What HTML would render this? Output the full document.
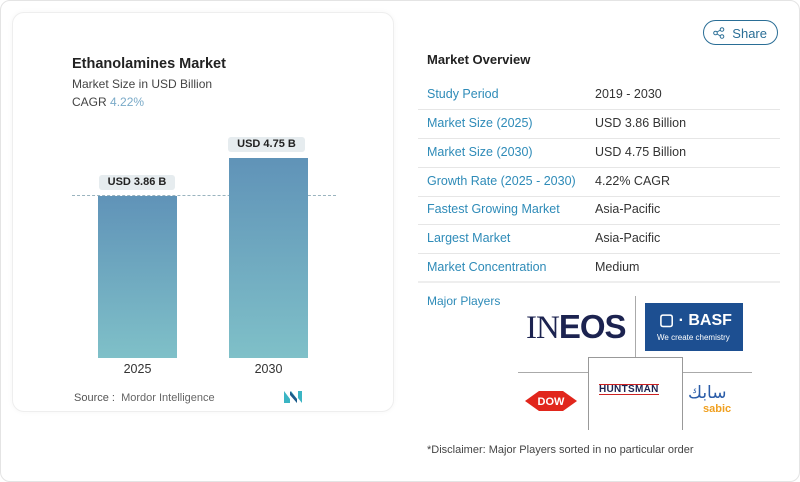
<!DOCTYPE html>
<html><head><style>
body{margin:0;width:800px;height:482px;background:#fff;font-family:"Liberation Sans",sans-serif;position:relative;overflow:hidden;color:#333}
.a{position:absolute}
.outer{left:0;top:0;width:798px;height:480px;border:1px solid #e4e4e4;border-radius:10px}
.card{left:12px;top:12px;width:380px;height:398px;border:1px solid #eee;border-radius:12px;background:#fff;box-shadow:0 0 6px rgba(0,0,0,.04)}
.bar{background:linear-gradient(#6093b8,#7fc0c8)}
.pill{background:#e6ecef;border-radius:3px;font-size:11px;font-weight:bold;text-align:center;line-height:15px;color:#222}
.row{left:418px;width:362px;height:29px;border-bottom:1px solid #e6e6e6;font-size:12.5px;line-height:29px}
.row span{position:absolute;left:9px;color:#2e8bb8}
.row b{position:absolute;left:177px;font-weight:normal;color:#333}
</style></head><body>
<div class="a outer"></div>
<div class="a card"></div>
<div class="a" style="left:72px;top:56px;font-size:14.5px;font-weight:bold;color:#222">Ethanolamines Market</div>
<div class="a" style="left:72px;top:77px;font-size:12px;color:#444">Market Size in USD Billion</div>
<div class="a" style="left:72px;top:95px;font-size:12px;color:#444">CAGR <span style="color:#7aaac8">4.22%</span></div>
<div class="a" style="left:72px;top:195px;width:264px;border-top:1px dashed #9ab4bf"></div>
<div class="a bar" style="left:98px;top:196px;width:79px;height:162px"></div>
<div class="a bar" style="left:229px;top:158px;width:79px;height:200px"></div>
<div class="a pill" style="left:99px;top:175px;width:76px">USD 3.86 B</div>
<div class="a pill" style="left:228px;top:137px;width:77px">USD 4.75 B</div>
<div class="a" style="left:98px;top:362px;width:79px;text-align:center;font-size:12.5px;color:#333">2025</div>
<div class="a" style="left:229px;top:362px;width:79px;text-align:center;font-size:12.5px;color:#333">2030</div>
<div class="a" style="left:74px;top:392px;font-size:11px;color:#666"><b style="font-weight:normal;color:#555">Source :</b>&nbsp; Mordor Intelligence</div>
<svg class="a" style="left:284px;top:391px" width="24" height="12"><path d="M0 12V0l6 8V12zM7 0l6 8v4L7 4zM14 0h4v12l-4-5z" fill="#3bb5c4"/><path d="M6 0l7 8V12L6 4z" fill="#1d5a8a"/></svg>
<div class="a" style="left:703px;top:20px;width:75px;height:25px;border:1px solid #2a6e96;border-radius:13px;font-size:13px;color:#2a6e96;line-height:25px;text-align:right;box-sizing:border-box;padding-right:10px">Share</div>
<svg class="a" style="left:713px;top:27px" width="12" height="12"><circle cx="9" cy="2.5" r="1.8" fill="none" stroke="#2a6e96"/><circle cx="9" cy="9.5" r="1.8" fill="none" stroke="#2a6e96"/><circle cx="2.5" cy="6" r="1.8" fill="none" stroke="#2a6e96"/><path d="M4 5l3.5-2M4 7l3.5 2" stroke="#2a6e96"/></svg>
<div class="a" style="left:427px;top:52px;font-size:13px;font-weight:bold;color:#222">Market Overview</div>
<div class="a row" style="top:80px"><span>Study Period</span><b>2019 - 2030</b></div>
<div class="a row" style="top:109px"><span>Market Size (2025)</span><b>USD 3.86 Billion</b></div>
<div class="a row" style="top:138px"><span>Market Size (2030)</span><b>USD 4.75 Billion</b></div>
<div class="a row" style="top:167px"><span>Growth Rate (2025 - 2030)</span><b>4.22% CAGR</b></div>
<div class="a row" style="top:195px"><span>Fastest Growing Market</span><b>Asia-Pacific</b></div>
<div class="a row" style="top:224px"><span>Largest Market</span><b>Asia-Pacific</b></div>
<div class="a row" style="top:253px;border-bottom:none"><span>Market Concentration</span><b>Medium</b></div>
<div class="a" style="left:418px;top:281px;width:362px;border-top:2px solid #eee"></div>
<div class="a" style="left:427px;top:294px;font-size:12px;color:#2e8bb8">Major Players</div>
<div class="a" style="left:635px;top:296px;height:62px;border-left:1px solid #aaa"></div>
<div class="a" style="left:518px;top:372px;width:234px;border-top:1px solid #aaa"></div>
<div class="a" style="left:588px;top:357px;width:93px;height:72px;border:1px solid #999;border-bottom:none;background:#fff"></div>
<div class="a" style="left:526px;top:308px;font-size:33px;font-family:'Liberation Serif',serif;color:#1c2350;letter-spacing:-1px">IN<b style="font-family:'Liberation Sans'">EOS</b></div>
<div class="a" style="left:645px;top:303px;width:98px;height:48px;background:#1d4f91;color:#fff"><div style="font-size:16px;font-weight:bold;margin:7px 0 0 14px">▢ · BASF</div><div style="font-size:8px;margin:3px 0 0 12px">We create chemistry</div></div>
<div class="a" style="left:599px;top:384px;font-size:10px;font-weight:bold;color:#1c2350;border-top:1.5px solid #c22;border-bottom:1.5px solid #c22;line-height:9px;letter-spacing:.3px">HUNTSMAN</div>
<svg class="a" style="left:525px;top:391px" width="52" height="20"><polygon points="0,10 14,0 38,0 52,10 38,20 14,20" fill="#e1261c"/><text x="26" y="14" font-size="11" font-weight="bold" fill="#fff" text-anchor="middle" font-family="Liberation Sans">DOW</text></svg>
<div class="a" style="left:688px;top:383px;font-size:17px;color:#2a5ca8;font-family:'DejaVu Sans',sans-serif">سابك</div>
<div class="a" style="left:703px;top:403px;font-size:11px;color:#f0a020;font-weight:bold">sabic</div>
<div class="a" style="left:427px;top:444px;font-size:11px;color:#444">*Disclaimer: Major Players sorted in no particular order</div>
</body></html>
